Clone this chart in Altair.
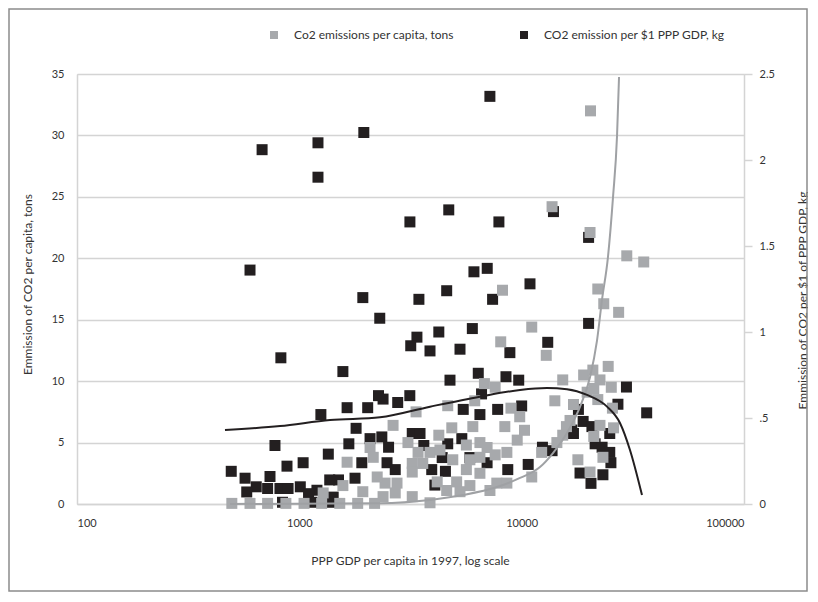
import altair as alt
import pandas as pd

GREY = "#a7a9ac"
BLACK = "#231f20"
S1 = "Co2 emissions per capita, tons"
S2 = "CO2 emission per $1 PPP GDP, kg"

# grey series: CO2 per capita (tons), left axis
grey_gdp = [20400, 13700, 20300, 29700, 35400, 22000, 23400, 27300, 8200,
            11100, 8050, 12900, 15300, 6800, 7600, 19000, 20900, 24500, 22500, 25300, 21100, 19700,
            22000, 14100, 17100, 25600, 8950, 9800, 6150, 4650, 3350, 2640, 8400, 10300, 6030, 4850,
            16500, 22500, 25900, 15900, 15300, 21100, 9550, 4240, 3080, 3420, 3870, 4290, 5640, 6490,
            6990, 8580, 7600, 12300, 14400, 23200, 17900, 20300, 4900, 5850, 6490, 3220, 3590, 2430,
            2750, 3220, 4170, 4600, 5100, 5640, 6490, 7730, 8580, 11100, 2700, 3220, 3870, 5280, 5850,
            7200, 2380,
            497, 600, 720, 870, 1050, 1260, 1520, 1830, 2180, 1640, 2080, 2150, 1570, 1280, 1930, 2240]
grey_tons = [32.0, 24.2, 22.1, 20.2, 19.7, 17.5, 16.3, 15.6, 17.4,
             14.4, 13.2, 12.1, 10.1, 9.8, 9.5, 10.5, 10.9, 11.2, 10.1, 9.5, 9.4, 9.1,
             8.5, 8.4, 8.1, 7.8, 7.8, 7.1, 8.4, 8.0, 7.5, 6.4, 6.3, 6.0, 6.3, 6.2,
             6.8, 6.4, 6.2, 6.3, 5.6, 5.5, 5.2, 5.6, 5.0, 4.2, 4.2, 4.4, 4.8, 5.0,
             4.6, 4.2, 4.0, 4.2, 5.0, 3.8, 3.6, 2.6, 3.6, 3.6, 3.8, 3.3, 3.3, 1.7,
             1.7, 2.6, 1.8, 1.1, 1.8, 2.8, 2.5, 1.7, 1.7, 2.2, 0.9, 0.6, 0.1, 1.0, 1.5,
             1.1, 0.6,
             0.05, 0.05, 0.05, 0.05, 0.05, 0.05, 0.05, 0.05, 0.05, 3.4, 4.6, 3.8, 1.5, 0.9, 1.0, 2.2]

# black series: CO2 per $1 PPP GDP (kg), right axis
black_gdp = [7196, 1950, 1213, 680, 1213, 3143, 4700, 7900, 13900, 20000, 600, 6100, 7000, 10900, 4600, 1930,
             3450, 7400, 2300, 3380, 3170, 4240, 6000, 3870, 5280, 8850, 13100, 20000, 4760, 6380,
             8500, 9700, 2380, 2770, 3140, 6600, 5460, 6490, 7800, 10000, 29600, 36500, 27100, 18000,
             18900, 17100, 20700, 21400, 24900, 23000, 24900, 25200, 23200, 18300, 20500, 2350, 2520,
             3220, 3490, 3630, 4650, 5380, 4390, 2480, 2700, 3940, 4540, 5850, 6990, 8660, 10700,
             12400, 13700, 16800, 4070,
             826, 1570, 2270, 1250, 1640, 2030, 1800, 1670, 2080, 777, 1350, 1040, 880, 1910, 494, 570,
             738, 1780, 640, 580, 720, 818, 890, 1010, 1200, 1370, 1500, 1100, 1420, 840, 1140, 1370]
black_kg = [2.37, 2.16, 2.10, 2.06, 1.90, 1.64, 1.71, 1.64, 1.70, 1.55, 1.36, 1.35, 1.37, 1.28, 1.24, 1.20,
            1.19, 1.19, 1.08, 0.97, 0.92, 1.00, 1.02, 0.89, 0.90, 0.88, 0.94, 1.05, 0.72, 0.76,
            0.74, 0.72, 0.61, 0.59, 0.63, 0.64, 0.55, 0.52, 0.55, 0.57, 0.68, 0.53, 0.58, 0.55,
            0.48, 0.41, 0.45, 0.35, 0.41, 0.33, 0.30, 0.24, 0.17, 0.18, 0.12, 0.39, 0.33,
            0.41, 0.41, 0.34, 0.35, 0.38, 0.27, 0.24, 0.20, 0.20, 0.19, 0.27, 0.24, 0.20, 0.23,
            0.33, 0.31, 0.43, 0.11,
            0.85, 0.77, 0.63, 0.52, 0.56, 0.56, 0.44, 0.35, 0.38, 0.34, 0.29, 0.24, 0.22, 0.24, 0.19, 0.15,
            0.16, 0.15, 0.10, 0.07, 0.09, 0.09, 0.09, 0.10, 0.08, 0.14, 0.14, 0.06, 0.04, 0.01, 0.01, 0.01]

# trend curves
grey_curve_gdp = [488, 2306, 3870, 5447, 7745, 9829, 12090, 13830, 15990, 18290, 20280, 21820,
                  22970, 24440, 25760, 26840, 27410]
grey_curve_tons = [0.0, 0.06, 0.33, 0.73, 1.38, 2.12, 3.01, 4.15, 5.78, 7.9, 10.3, 13.3,
                   16.6, 20.1, 25.0, 29.9, 34.75]
black_curve_gdp = [463, 819, 1374, 2306, 3870, 6494, 9829, 13000, 15990, 19680, 24210, 27680, 30700, 34770]
black_curve_kg = [0.430, 0.453, 0.488, 0.504, 0.566, 0.624, 0.663, 0.674, 0.667, 0.634, 0.566, 0.471,
                  0.314, 0.052]

x_ticks = [100, 1000, 10000, 100000]
left_ticks = [0, 5, 10, 15, 20, 25, 30, 35]
right_ticks = [0, 0.5, 1, 1.5, 2, 2.5]

FONT = "Lato"
AXCOL = "#d4d4d4"
TXT = "#333333"

grey_df = pd.DataFrame([{"gdp": g, "v": v, "series": S1} for g, v in zip(grey_gdp, grey_tons)])
black_df = pd.DataFrame([{"gdp": g, "v": v, "series": S2} for g, v in zip(black_gdp, black_kg)])
gcurve_df = pd.DataFrame([{"gdp": g, "v": v} for g, v in zip(grey_curve_gdp, grey_curve_tons)])
bcurve_df = pd.DataFrame([{"gdp": g, "v": v} for g, v in zip(black_curve_gdp, black_curve_kg)])

xscale = alt.Scale(type="log", domain=[100, 100000], nice=False)
xaxis = alt.Axis(values=x_ticks, format="d", labelFlush=True, ticks=False, grid=False,
                 domainColor=AXCOL, domainWidth=1.5, labelPadding=13, labelFontSize=11,
                 labelColor=TXT, labelFont=FONT,
                 title="PPP GDP per capita in 1997, log scale", titleFont=FONT,
                 titleFontSize=12, titleFontWeight="normal", titleColor=TXT,
                 titleX=333, titleY=56, titleAlign="center", titleBaseline="middle")
xenc = alt.X("gdp:Q", scale=xscale, axis=xaxis)

lscale = alt.Scale(domain=[0, 35], nice=False, zero=True)
rscale = alt.Scale(domain=[0, 2.5], nice=False, zero=True)

color = alt.Color("series:N",
                  scale=alt.Scale(domain=[S1, S2], range=[GREY, BLACK]),
                  legend=alt.Legend(orient="none", legendX=191, legendY=-45, direction="horizontal",
                                    title=None, symbolType="square", symbolSize=64, labelFontSize=12,
                                    labelFont=FONT, labelColor=TXT, labelOffset=14, labelLimit=400,
                                    columnPadding=64, symbolStrokeWidth=0))

black_pts = alt.Chart(black_df).mark_square(size=121, opacity=1).encode(
    x=xenc,
    y=alt.Y("v:Q", scale=rscale,
            axis=alt.Axis(orient="right", values=right_ticks, format="~g",
                          labelExpr="datum.value == 0.5 ? '.5' : datum.label",
                          grid=False, domainColor=AXCOL, domainWidth=1.5, ticks=True, tickSize=8,
                          tickColor=AXCOL, tickWidth=1.5, labelPadding=7, labelFontSize=11,
                          labelColor=TXT, labelFont=FONT,
                          title="Emmission of CO2 per $1 of PPP GDP, kg", titleFont=FONT,
                          titleFontSize=12, titleFontWeight="normal", titleColor=TXT,
                          titleX=58, titleY=226, titleAngle=270, titleAlign="center",
                          titleBaseline="middle")),
    color=color,
)

grey_pts = alt.Chart(grey_df).mark_square(size=121, opacity=1).encode(
    x=xenc,
    y=alt.Y("v:Q", scale=lscale,
            axis=alt.Axis(orient="left", values=left_ticks, format="d", grid=True, gridColor=AXCOL,
                          gridWidth=1.5, domainColor=AXCOL, domainWidth=1.5, ticks=False,
                          labelPadding=13, labelFontSize=11, labelColor=TXT, labelFont=FONT,
                          title="Emmission of CO2 per capita, tons", titleFont=FONT, titleFontSize=12,
                          titleFontWeight="normal", titleColor=TXT,
                          titleX=-50, titleY=210, titleAngle=270, titleAlign="center",
                          titleBaseline="middle")),
    color=color,
)

grey_line = alt.Chart(gcurve_df).mark_line(color="#9fa1a4", strokeWidth=2, interpolate="monotone").encode(
    x=xenc,
    y=alt.Y("v:Q", scale=lscale, axis=None),
)

black_line = alt.Chart(bcurve_df).mark_line(color=BLACK, strokeWidth=2, interpolate="monotone").encode(
    x=xenc,
    y=alt.Y("v:Q", scale=rscale, axis=None),
)

frame = alt.Chart(pd.DataFrame({"k": [0]})).mark_rect(filled=False, stroke="#8c8c8c", strokeWidth=1.5).encode(
    x=alt.value(-68), x2=alt.value(730), y=alt.value(-65), y2=alt.value(517)
)

chart = alt.layer(black_pts, grey_pts, grey_line, black_line, frame).resolve_scale(
    y="independent"
).properties(
    width=667, height=430,
    autosize=alt.AutoSizeParams(type="none"),
    padding={"left": 69, "top": 66, "right": 64, "bottom": 88},
).configure_view(stroke=None).configure(background="white")

chart.save("out.html", embed_options={"renderer": "svg", "actions": False})
